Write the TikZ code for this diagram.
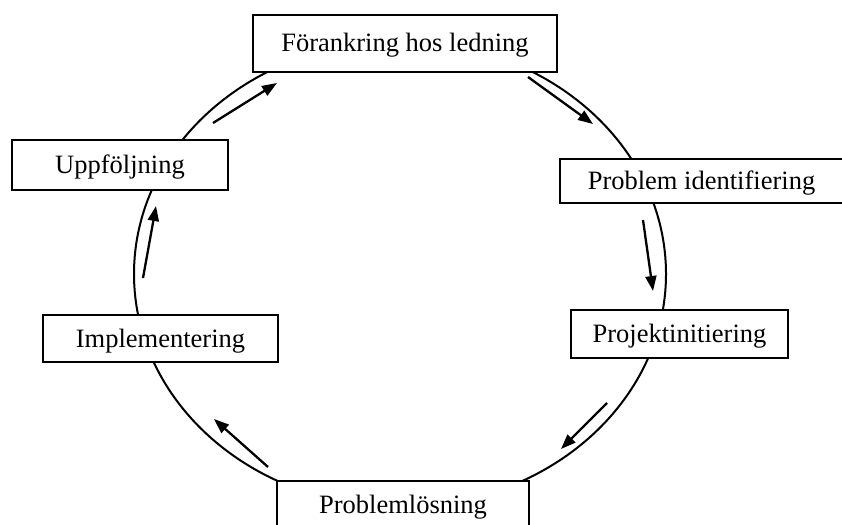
\documentclass[tikz,border=0pt]{standalone}
\usepackage{fontspec}
\setmainfont{Liberation Serif}
\usetikzlibrary{arrows.meta}
\begin{document}
\begin{tikzpicture}[x=1pt,y=-1pt,
		box/.style={draw,line width=2.2pt,fill=white,inner sep=0pt,
			font=\fontsize{26.5}{30}\selectfont,text height=18pt,text depth=1pt},
		flow/.style={line width=2.3pt,-{Triangle[length=15pt,width=11pt]}}]
			\useasboundingbox (0,0) rectangle (842,524);
			\draw[line width=2pt] (400,274) ellipse [x radius=266pt,y radius=233pt];

			\node(forank) [box,minimum width=304pt,minimum height=57pt] at (405,43.5) {Förankring hos ledning};
			\node(probid) [box,minimum width=283pt,minimum height=44pt] at (701.5,181) {Problem identifiering};
			\node(projinit) [box,minimum width=217pt,minimum height=48pt] at (679.5,334) {Projektinitiering};
			\node(problos) [box,minimum width=252pt,minimum height=48pt] at (403,505) {Problemlösning};
			\node(impl) [box,minimum width=235pt,minimum height=47pt] at (160.5,338.5) {Implementering};
			\node(uppf) [box,minimum width=216pt,minimum height=50pt] at (120,165) {Uppföljning};

			\coordinate(a1) at (213,123);
			\coordinate(b1) at (277,83);
			\coordinate(a2) at (528,77);
			\coordinate(b2) at (593,124);
			\coordinate(a3) at (643,220);
			\coordinate(b3) at (653,291);
			\coordinate(a4) at (607,403);
			\coordinate(b4) at (561,449);
			\coordinate(a5) at (268,467);
			\coordinate(b5) at (214,419);
			\coordinate(a6) at (143,278);
			\coordinate(b6) at (156,206);

			\draw[flow] (a1) -- (b1);
			\draw[flow] (a2) -- (b2);
			\draw[flow] (a3) -- (b3);
			\draw[flow] (a4) -- (b4);
			\draw[flow] (a5) -- (b5);
			\draw[flow] (a6) -- (b6);
		\end{tikzpicture}
\end{document}
